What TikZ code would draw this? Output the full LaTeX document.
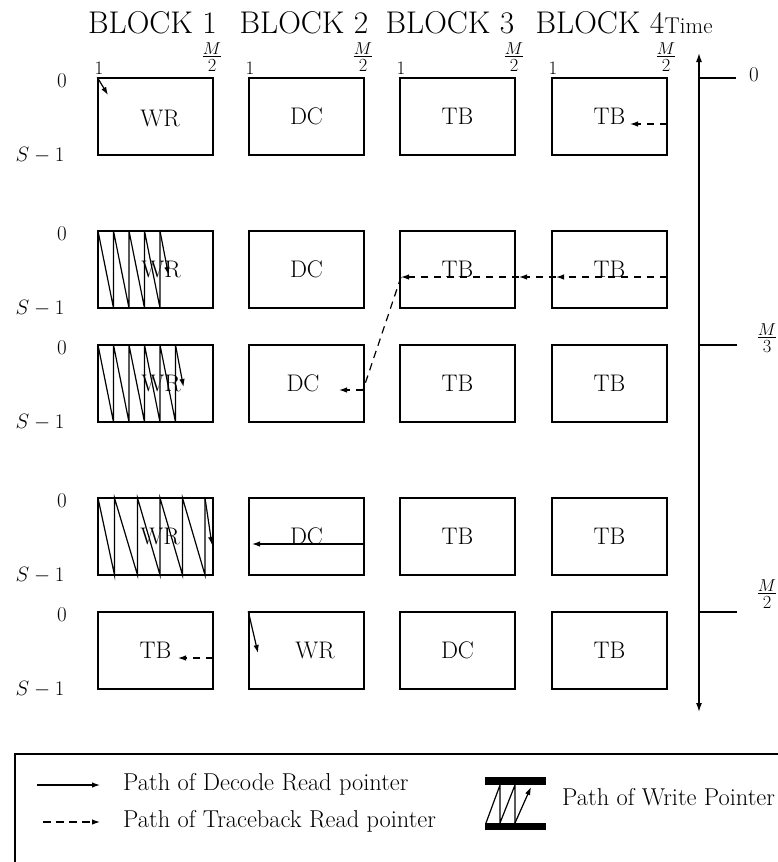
\documentclass[tikz,border=0pt]{standalone}
\usetikzlibrary{arrows.meta,calc}
\newcommand\myfr[2]{\vbox{\offinterlineskip\halign{\hfil##\hfil\cr $#1$\cr\noalign{\kern1.5pt\hrule height 1.3pt\kern1.5pt}#2\cr}}}
\tikzset{
  blk/.style={draw, line width=1.5pt, minimum width=115pt, minimum height=77pt, inner sep=0pt},
  lbl/.style={inner sep=0pt, font=\fontsize{24}{28}\selectfont},
  hdr/.style={inner sep=0pt, font=\fontsize{31.4}{36}\selectfont, anchor=base},
  one/.style={inner sep=0pt, font=\fontsize{19}{22}\selectfont},
  zero/.style={inner sep=0pt, font=\fontsize{21}{24}\selectfont},
  frac/.style={inner sep=0pt, font=\fontsize{18.5}{21}\selectfont},
  zig/.style={line width=1.2pt},
  ptr/.style={line width=1.2pt, -{Latex[length=8pt,width=5.5pt]}},
  tbptr/.style={line width=1.2pt, dash pattern=on 7.5pt off 5.5pt, -{Latex[length=8pt,width=5.5pt]}},
  tbline/.style={line width=1.2pt, dash pattern=on 7.5pt off 5.5pt},
  axis/.style={line width=1.4pt},
  leg/.style={inner sep=0pt, font=\fontsize{24.4}{28}\selectfont, anchor=base west}
}
\begin{document}
\begin{tikzpicture}[x=1pt,y=-1pt]
\useasboundingbox (0,0) rectangle (778,862);

% headers
\node[hdr] (h1) at (152.5,33) {BLOCK 1};
\node[hdr] (h2) at (304,33) {BLOCK 2};
\node[hdr] (h3) at (450,33) {BLOCK 3};
\node[hdr] (h4) at (600,33) {BLOCK 4};
\node[inner sep=0pt, anchor=base west, font=\fontsize{22.8}{26}\selectfont] (time) at (h4.base east) {Time};

% column labels
\foreach \l/\r [count=\i] in {98/213,249/364,400/515,552/667}{
  \node[one] (one\i) at (\l+1,68) {1};
  \node[frac] (mh\i) at (\r-1,57) {\myfr{M}{2}};
}

% row labels
\foreach \t/\b [count=\j] in {78/155,231/308,345/422,498/575,612/689}{
  \node[zero] (z\j) at (62,\t+3) {0};
  \node[inner sep=0pt, font=\fontsize{20.74}{24}\selectfont] (s\j) at (40,\b) {$S-1$};
}

% boxes
\foreach \y [count=\j] in {116.5,269.5,383.5,536.5,650.5}{
  \foreach \x [count=\i] in {155.5,306.5,457.5,609.5}{
    \node[blk] (b\j\i) at (\x,\y) {};
  }
}

% box labels
\node[lbl] (t11) at (160,118) {WR};
\node[lbl] (t12) at (306.5,116.5) {DC};
\node[lbl] (t13) at (457.5,116.5) {TB};
\node[lbl] (t14) at (609.5,116.5) {TB};
\node[lbl] (t21) at (161,269.5) {WR};
\node[lbl] (t22) at (306.5,269.5) {DC};
\node[lbl] (t23) at (457.5,269.5) {TB};
\node[lbl] (t24) at (609.5,269.5) {TB};
\node[lbl] (t31) at (161,383.5) {WR};
\node[lbl] (t32) at (303,383.5) {DC};
\node[lbl] (t33) at (457.5,383.5) {TB};
\node[lbl] (t34) at (609.5,383.5) {TB};
\node[lbl] (t41) at (160,536.5) {WR};
\node[lbl] (t42) at (306.5,536.5) {DC};
\node[lbl] (t43) at (457.5,536.5) {TB};
\node[lbl] (t44) at (609.5,536.5) {TB};
\node[lbl] (t51) at (155.5,650.5) {TB};
\node[lbl] (t52) at (315,650.5) {WR};
\node[lbl] (t53) at (457.5,650.5) {DC};
\node[lbl] (t54) at (609.5,650.5) {TB};

% write pointer paths
\draw[ptr] (b11.north west) -- (108,95);
\draw[zig] (98,231)--(113.5,308)--(113.5,231)--(129,308)--(129,231)--(144.5,308)--(144.5,231)--(160,308)--(160,231);
\draw[ptr] (160,231) -- (168.5,275);
\draw[zig] (98,345)--(113.5,422)--(113.5,345)--(129,422)--(129,345)--(144.5,422)--(144.5,345)--(160,422)--(160,345)--(175.5,422)--(175.5,345);
\draw[ptr] (175.5,345) -- (183.5,387);
\draw[zig] (98,498)--(114.5,575)--(114.5,498)--(137.5,575)--(137.5,498)--(160,575)--(160,498)--(182.5,575)--(182.5,498)--(205,575)--(205,498);
\draw[ptr] (205,498) -- (212,545);
\draw[ptr] (b52.north west) -- (258,653);

% decode read pointer
\coordinate (d4s) at (364,544);
\coordinate (d4e) at (252,544);
\draw[ptr] (d4s) -- (d4e);

% traceback read pointers
\coordinate (r1s) at (667,124);
\coordinate (r1e) at (630,124);
\draw[tbptr] (r1s) -- (r1e);
\coordinate (r5s) at (213,658);
\coordinate (r5e) at (178,658);
\draw[tbptr] (r5s) -- (r5e);
\coordinate (c1) at (667,277);
\coordinate (c2) at (556,277);
\coordinate (c3) at (519,277);
\coordinate (c4) at (401,277);
\coordinate (c5) at (363,390);
\coordinate (c6) at (339,390);
\draw[tbptr] (c1) -- (c2);
\draw[tbptr] (c2) -- (c3);
\draw[tbptr] (c3) -- (c4);
\draw[tbline] (c4) -- (c5);
\draw[tbptr] (c5) -- (c6);

% time axis
\coordinate (ax1) at (699,53);
\coordinate (ax2) at (699,712);
\draw[axis, {Latex[length=9pt,width=6pt]}-{Latex[length=9pt,width=6pt]}] (ax1) -- (ax2);
\draw[axis] (699,78) -- (736,78);
\draw[axis] (699,345) -- (737,345);
\draw[axis] (699,612) -- (737,612);
\node[zero] (tz) at (754,74.5) {0};
\node[frac] (tm3) at (767,338) {\myfr{M}{3}};
\node[frac] (tm2) at (767,594) {\myfr{M}{2}};

% legend
\draw[line width=1.4pt] (15,870) -- (15,754) -- (790,754);
\coordinate (l1s) at (37,785);
\coordinate (l1e) at (100,785);
\draw[ptr] (l1s) -- (l1e);
\node[leg] (lt1) at (123,790) {Path of Decode Read pointer};
\coordinate (l2s) at (43,822);
\coordinate (l2e) at (100,822);
\draw[tbptr] (l2s) -- (l2e);
\node[leg] (lt2) at (123,827) {Path of Traceback Read pointer};
\fill (485,777) rectangle (546,785);
\fill (485,823) rectangle (546,830);
\draw[zig] (486,823)--(500,785)--(500,823)--(515,785)--(515,823);
\draw[ptr] (515,823) -- (531,787);
\node[leg] (lt3) at (562,805) {Path of Write Pointer};
\end{tikzpicture}
\end{document}
